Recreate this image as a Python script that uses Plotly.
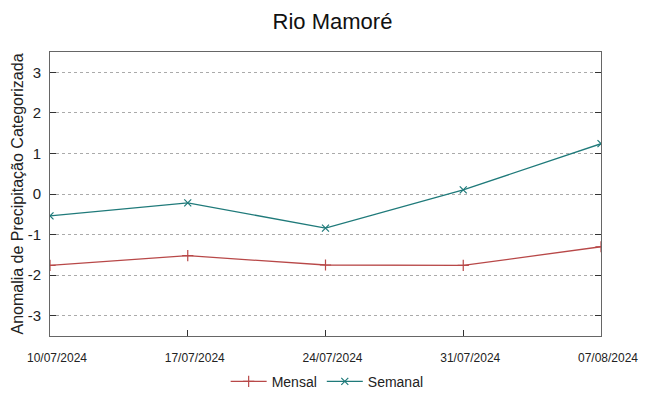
import plotly.graph_objects as go

dates = ["2024-07-10", "2024-07-17", "2024-07-24", "2024-07-31", "2024-08-07"]
tick_labels = ["10/07/2024", "17/07/2024", "24/07/2024", "31/07/2024", "07/08/2024"]
mensal = [-1.76, -1.52, -1.75, -1.76, -1.30]
semanal = [-0.54, -0.22, -0.84, 0.10, 1.24]
y_ticks = [-3, -2, -1, 0, 1, 2, 3]
y_tick_labels = ["-3", "-2", "-1", "0", "1", "2", "3"]

fig = go.Figure()
fig.add_trace(go.Scatter(
    x=dates, y=mensal, name="Mensal", mode="lines+markers",
    line=dict(color="#b84848", width=1.3),
    marker=dict(symbol="cross-thin", size=8, line=dict(color="#b84848", width=1.2)),
))
fig.add_trace(go.Scatter(
    x=dates, y=semanal, name="Semanal", mode="lines+markers",
    line=dict(color="#1f7a7a", width=1.3),
    marker=dict(symbol="x-thin", size=7, line=dict(color="#1f7a7a", width=1.2)),
))

fig.update_layout(
    width=649, height=396,
    margin=dict(l=42, r=56, t=44, b=68),
    paper_bgcolor="white", plot_bgcolor="white",
    font=dict(family="Liberation Sans, Arial, sans-serif", color="#222"),
    title=dict(text="Rio Mamoré", x=0.5, xanchor="center", y=0.966, yanchor="middle",
               font=dict(size=22, color="#111")),
    showlegend=True,
    legend=dict(orientation="h", x=0.503, xanchor="center", yref="container",
                y=0.056, yanchor="middle",
                font=dict(size=14), itemwidth=36),
)
fig.update_xaxes(
    type="date", range=[dates[0], dates[-1]],
    tickmode="array", tickvals=dates, ticktext=tick_labels,
    tickfont=dict(size=12), ticklabelshift=7,
    ticks="inside", ticklen=6, tickcolor="#333", ticklabelstandoff=11,
    showline=True, linecolor="#666", linewidth=1, mirror=True,
    showgrid=False, zeroline=False, automargin=False,
)
fig.update_yaxes(
    range=[-3.5, 3.5], tickmode="array", tickvals=y_ticks, ticktext=y_tick_labels,
    tickfont=dict(size=15),
    ticks="inside", ticklen=6, tickcolor="#333", ticklabelstandoff=5,
    showline=True, linecolor="#666", linewidth=1, mirror="ticks",
    showgrid=True, gridcolor="#aaaaaa", griddash="dot", gridwidth=1,
    zeroline=False, automargin=False,
    title=dict(text="Anomalia de Precipitação Categorizada", font=dict(size=16), standoff=0),
)

fig.write_html("out.html")
